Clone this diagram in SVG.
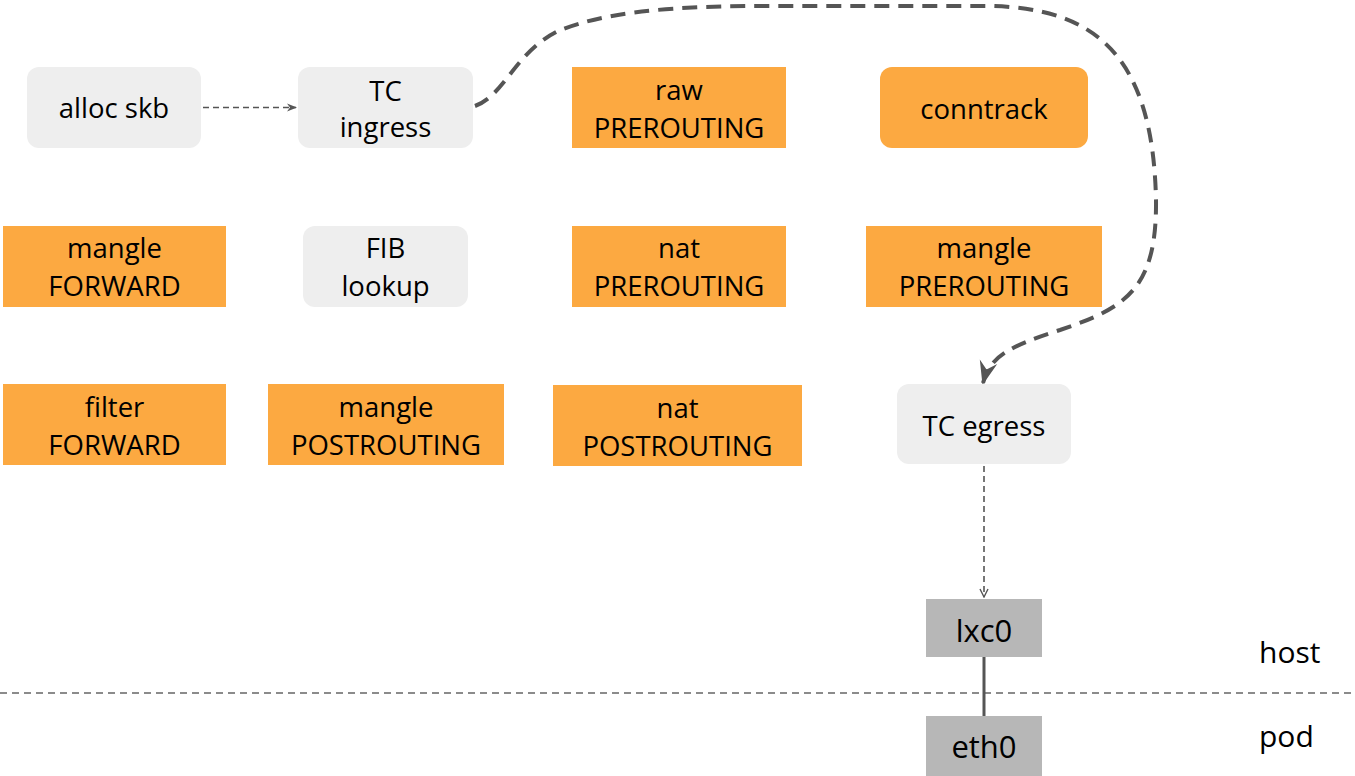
<svg xmlns="http://www.w3.org/2000/svg" width="1355" height="776" viewBox="0 0 1355 776">
  <style>
    .lbl { font-family: "Open Sans", "Noto Sans", sans-serif; font-size: 27.5px; fill: #000; text-anchor: middle; }
    .ifc { font-size: 31px; }
    .side { font-family: "Open Sans", "Noto Sans", sans-serif; font-size: 30px; fill: #000; }
    .hook { fill: #eeeeee; }
    .chain { fill: #fca941; }
    .dev { fill: #b7b7b7; }
    .thin { fill: none; stroke: #555; stroke-width: 1.6; stroke-dasharray: 6 4; }
    .loop { fill: none; stroke: #555; stroke-width: 4; stroke-dasharray: 15 9; }
  </style>
  <defs>
    <marker id="arrSmall" viewBox="0 0 10 10" refX="9" refY="5" markerWidth="10" markerHeight="10" markerUnits="userSpaceOnUse" orient="auto">
      <path d="M0,1 L10,5 L0,9 L3,5 Z" fill="#555"/>
    </marker>
    <marker id="arrOpen" viewBox="0 0 10 10" refX="9" refY="5" markerWidth="10" markerHeight="10" markerUnits="userSpaceOnUse" orient="auto">
      <path d="M1,1 L9,5 L1,9" fill="none" stroke="#555" stroke-width="1.4"/>
    </marker>
    <marker id="arrBig" viewBox="0 0 24 20" refX="22" refY="10" markerWidth="24" markerHeight="20" markerUnits="userSpaceOnUse" orient="auto">
      <path d="M0,1 L24,10 L0,19 L8,10 Z" fill="#555"/>
    </marker>
  </defs>

  <!-- host / pod boundary -->
  <line x1="0" y1="693" x2="1355" y2="693" stroke="#666" stroke-width="1.5" stroke-dasharray="7 5"/>
  <text class="side" x="1259" y="663">host</text>
  <text class="side" x="1259" y="747">pod</text>

  <!-- connectors -->
  <g id="connectors">
    <line class="thin" x1="203" y1="107.5" x2="296" y2="107.5" marker-end="url(#arrSmall)"/>
    <path class="loop" d="M475,106 C505,95 515,52 558,31 C600,14 660,6 760,6 L990,6 C1095,8 1153,55 1156,200 C1157,290 1125,308 1060,330 C1010,346 990,356 983,383" marker-end="url(#arrBig)"/>
    <line class="thin" x1="984" y1="466" x2="984" y2="597" marker-end="url(#arrOpen)"/>
    <line x1="984" y1="657" x2="984" y2="716" stroke="#555" stroke-width="3"/>
  </g>

  <!-- row 1 -->
  <g id="alloc-skb">
    <rect class="hook" x="27" y="67" width="174" height="81" rx="12"/>
    <text class="lbl" x="114" y="118">alloc skb</text>
  </g>
  <g id="tc-ingress">
    <rect class="hook" x="298" y="67" width="175" height="81" rx="12"/>
    <text class="lbl" x="385.5" y="101">TC</text>
    <text class="lbl" x="385.5" y="137">ingress</text>
  </g>
  <g id="raw-prerouting">
    <rect class="chain" x="572" y="67" width="214" height="81"/>
    <text class="lbl" x="679" y="100">raw</text>
    <text class="lbl" x="679" y="138">PREROUTING</text>
  </g>
  <g id="conntrack">
    <rect class="chain" x="880" y="67" width="208" height="81" rx="12"/>
    <text class="lbl" x="984" y="119">conntrack</text>
  </g>

  <!-- row 2 -->
  <g id="mangle-forward">
    <rect class="chain" x="3" y="226" width="223" height="81"/>
    <text class="lbl" x="114.5" y="258">mangle</text>
    <text class="lbl" x="114.5" y="296">FORWARD</text>
  </g>
  <g id="fib-lookup">
    <rect class="hook" x="303" y="226" width="165" height="81" rx="12"/>
    <text class="lbl" x="385.5" y="258">FIB</text>
    <text class="lbl" x="385.5" y="296">lookup</text>
  </g>
  <g id="nat-prerouting">
    <rect class="chain" x="572" y="226" width="214" height="81"/>
    <text class="lbl" x="679" y="258">nat</text>
    <text class="lbl" x="679" y="296">PREROUTING</text>
  </g>
  <g id="mangle-prerouting">
    <rect class="chain" x="866" y="226" width="236" height="81"/>
    <text class="lbl" x="984" y="258">mangle</text>
    <text class="lbl" x="984" y="296">PREROUTING</text>
  </g>

  <!-- row 3 -->
  <g id="filter-forward">
    <rect class="chain" x="3" y="384" width="223" height="81"/>
    <text class="lbl" x="114.5" y="417">filter</text>
    <text class="lbl" x="114.5" y="455">FORWARD</text>
  </g>
  <g id="mangle-postrouting">
    <rect class="chain" x="268" y="384" width="236" height="81"/>
    <text class="lbl" x="386" y="417">mangle</text>
    <text class="lbl" x="386" y="455">POSTROUTING</text>
  </g>
  <g id="nat-postrouting">
    <rect class="chain" x="553" y="385" width="249" height="81"/>
    <text class="lbl" x="677.5" y="418">nat</text>
    <text class="lbl" x="677.5" y="456">POSTROUTING</text>
  </g>
  <g id="tc-egress">
    <rect class="hook" x="897" y="384" width="174" height="80" rx="12"/>
    <text class="lbl" x="984" y="436">TC egress</text>
  </g>

  <!-- interfaces -->
  <g id="lxc0">
    <rect class="dev" x="926" y="599" width="116" height="58"/>
    <text class="lbl ifc" x="984" y="642">lxc0</text>
  </g>
  <g id="eth0">
    <rect class="dev" x="926" y="716" width="116" height="60"/>
    <text class="lbl ifc" x="984" y="758">eth0</text>
  </g>
</svg>
